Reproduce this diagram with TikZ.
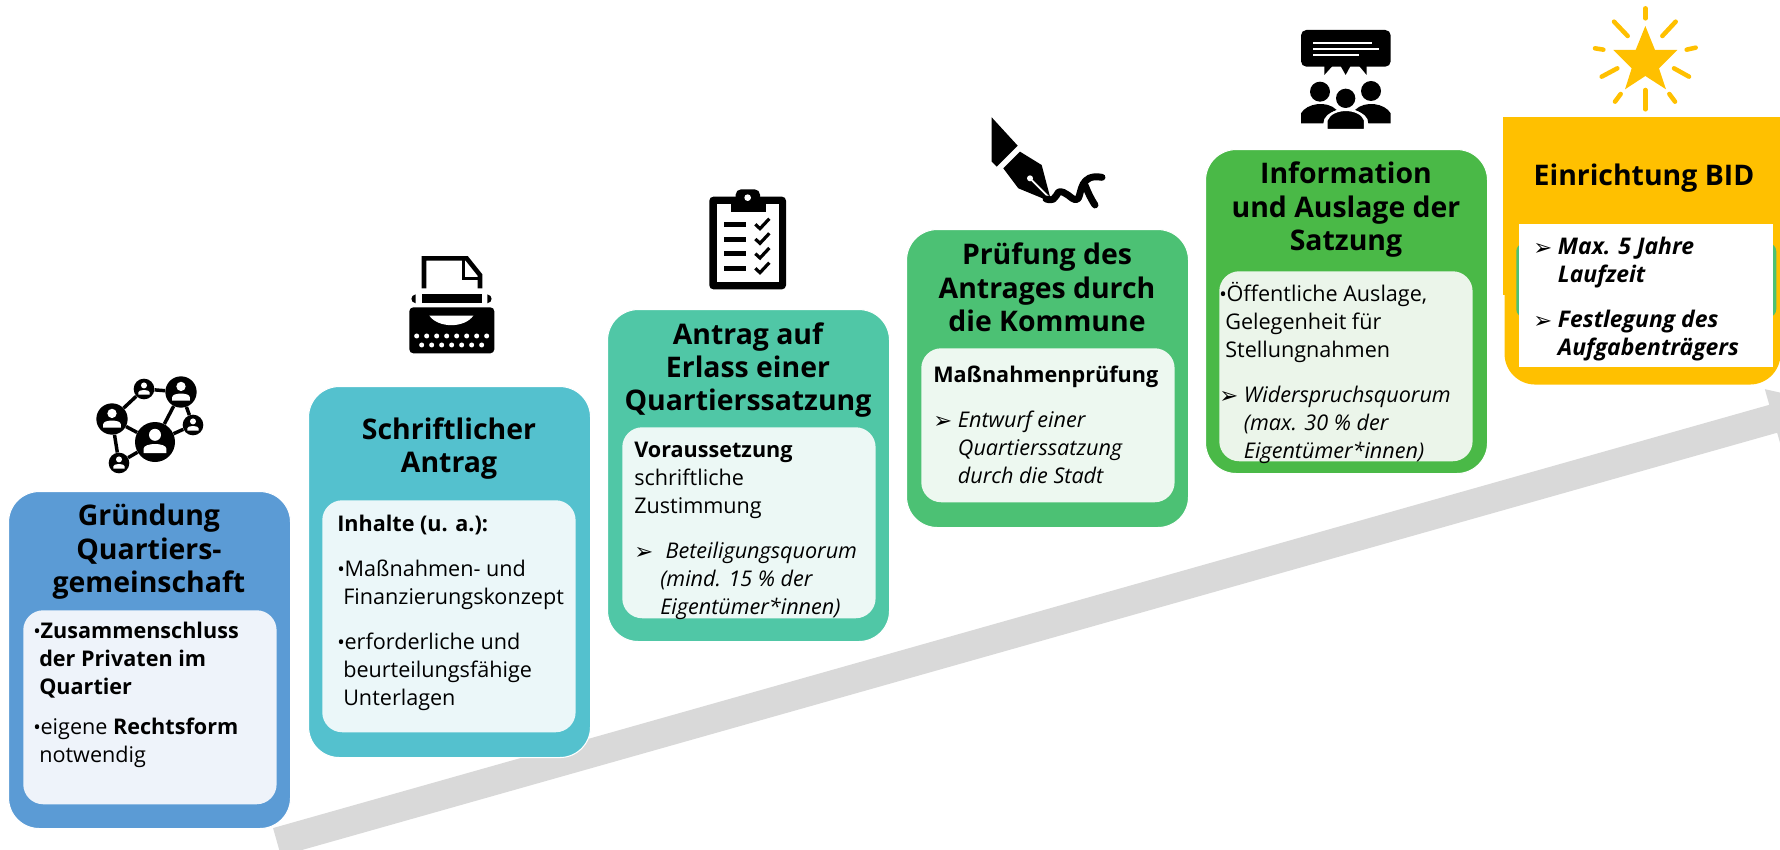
\documentclass[tikz,border=0pt]{standalone}
\usepackage{fontspec}
\setmainfont{Open Sans}
\newfontfamily\tipfont{DejaVu Sans}
\usetikzlibrary{arrows.meta}
\definecolor{boxblue}{HTML}{5B9BD5}
\definecolor{innerblue}{HTML}{EEF3FA}
\definecolor{boxcyan}{HTML}{54C1CE}
\definecolor{innercyan}{HTML}{EBF7F9}
\definecolor{boxmint}{HTML}{50C7A6}
\definecolor{innermint}{HTML}{ECF8F5}
\definecolor{boxgreen}{HTML}{4CC174}
\definecolor{innergreen}{HTML}{EDF8F0}
\definecolor{boxleaf}{HTML}{4AB947}
\definecolor{innerleaf}{HTML}{EBF5EA}
\definecolor{boxgold}{HTML}{FFC000}
\definecolor{slopegray}{HTML}{D9D9D9}
\newcommand{\tipmark}{\makebox[18.5pt][l]{\tipfont\fontsize{17pt}{17pt}\selectfont\raisebox{-0.5pt}{➢}}}
\newcommand{\tiprest}{\hspace*{18.5pt}}
\newcommand{\bulletmark}{\makebox[5.5pt][l]{\fontsize{15pt}{15pt}\selectfont •}}
\newcommand{\bulletrest}{\hspace*{4.5pt}}
\tikzset{
  outerbox/.style={anchor=north west, draw=white, line width=0.8pt, rounded corners=23pt, minimum width=211.5pt, inner sep=0pt},
  innerbox/.style={anchor=north west, rounded corners=15pt, minimum width=190pt, inner sep=0pt},
  boxtitle/.style={anchor=north, align=center, inner sep=0pt, font=\fontsize{21.3pt}{25pt}\selectfont\bfseries},
  boxbody/.style={anchor=north west, align=left, inner sep=0pt, font=\fontsize{16.2pt}{20.9pt}\selectfont},
  netnode/.style={circle, fill=black, inner sep=0pt},
  netlink/.style={line width=2.6pt, black},
  persona/.pic={
    \fill[white] (0,-3.6) circle (3);
    \fill[white] (-5.7,5.6) -- (-5.7,3.4) .. controls (-5.7,0.2) and (5.7,0.2) .. (5.7,3.4) -- (5.7,5.6) -- cycle;
  }
}
\begin{document}
\begin{tikzpicture}[x=0.75pt,y=-0.75pt]
  \useasboundingbox (0,0) rectangle (1780,849);

  \coordinate (slopestart) at (277,842);
  \coordinate (slopeend) at (1829,403);
  \draw[slopegray, line width=21.75pt, -{Triangle[length=43.5pt,width=42.75pt]}] (slopestart) -- (slopeend);

  \node[outerbox, fill=boxblue, minimum height=252.75pt] (boxa) at (8,491) {};
  \node[innerbox, fill=innerblue, minimum height=145.5pt] (innera) at (23,610) {};
  \node[boxtitle] (titlea) at (149,504) {Gründung\\Quartiers-\\gemeinschaft};
  \node[boxbody] (bodya) at (33,622) {\bulletmark\textbf{Zusammenschluss}\\
    \bulletrest\textbf{der Privaten im}\\
    \bulletrest\textbf{Quartier}\\[9pt]
    \bulletmark eigene \textbf{Rechtsform}\\
    \bulletrest notwendig};

  \node[outerbox, fill=boxcyan, minimum height=278.25pt] (boxb) at (308,386) {};
  \node[innerbox, fill=innercyan, minimum height=174pt] (innerb) at (322,500) {};
  \node[boxtitle] (titleb) at (449,417) {Schriftlicher\\Antrag};
  \node[boxbody] (bodyb) at (337,515) {\textbf{Inhalte (u. a.):}\\[13pt]
    \bulletmark Maßnahmen- und\\
    \bulletrest Finanzierungskonzept\\[13pt]
    \bulletmark erforderliche und\\
    \bulletrest beurteilungsfähige\\
    \bulletrest Unterlagen};

  \node[outerbox, fill=boxmint, minimum height=249pt] (boxc) at (607,309) {};
  \node[innerbox, fill=innermint, minimum height=143.25pt] (innerc) at (622,427) {};
  \node[boxtitle] (titlec) at (748,322) {Antrag auf\\Erlass einer\\Quartierssatzung};
  \node[boxbody] (bodyc) at (634,442) {\textbf{Voraussetzung}\\
    schriftliche\\
    Zustimmung\\[13pt]
    \tipmark\hspace*{5pt}\textit{Beteiligungsquorum}\\
    \hspace*{19.5pt}\textit{(mind. 15 \% der}\\
    \hspace*{19.5pt}\textit{Eigentümer*innen)}};

  \node[outerbox, fill=boxgreen, minimum height=223.5pt] (boxd) at (906,229) {};
  \node[innerbox, fill=innergreen, minimum height=115.5pt] (innerd) at (921,348) {};
  \node[boxtitle] (titled) at (1047,243) {Prüfung des\\Antrages durch\\die Kommune};
  \node[boxbody] (bodyd) at (933,366) {\textbf{Maßnahmenprüfung}\\[13pt]
    \tipmark\textit{Entwurf einer}\\
    \tiprest\textit{Quartierssatzung}\\
    \tiprest\textit{durch die Stadt}};

  \node[outerbox, fill=boxleaf, minimum height=243pt] (boxe) at (1205,149) {};
  \node[innerbox, fill=innerleaf, minimum height=142.5pt] (innere) at (1219,271) {};
  \node[boxtitle] (titlee) at (1346,162) {Information\\und Auslage der\\Satzung};
  \node[boxbody] (bodye) at (1219,282) {\bulletmark Öffentliche Auslage,\\
    \bulletrest Gelegenheit für\\
    \bulletrest Stellungnahmen\\[13pt]
    \tipmark\textit{Widerspruchsquorum}\\
    \tiprest\textit{(max. 30 \% der}\\
    \tiprest\textit{Eigentümer*innen)}};

  \fill[boxgold] (1503,117) rectangle (1780,295);
  \node[outerbox, draw=none, fill=boxgold, minimum width=207pt, minimum height=120pt] (boxf) at (1504,224) {};
  \node[innerbox, fill=boxgreen, minimum width=195pt, minimum height=55.5pt, rounded corners=6pt] (innerf) at (1516,243) {};
  \fill[white] (1519,224) rectangle (1773,367);
  \node[boxtitle] (titlef) at (1644,164) {Einrichtung BID};
  \node[boxbody, font=\fontsize{17.2pt}{20.9pt}\selectfont] (bodyf) at (1533,237) {\tipmark\textbf{\textit{Max. 5 Jahre}}\\
    \tiprest\textbf{\textit{Laufzeit}}\\[13pt]
    \tipmark\textbf{\textit{Festlegung des}}\\
    \tiprest\textbf{\textit{Aufgabenträgers}}};

  \node[netnode, minimum size=30pt] (netbig) at (155,442) {};
  \node[netnode, minimum size=23.5pt] (netleft) at (112,419) {};
  \node[netnode, minimum size=23.5pt] (nettop) at (181,392) {};
  \node[netnode, minimum size=15.5pt] (netup) at (144,389) {};
  \node[netnode, minimum size=15.5pt] (netright) at (193,425) {};
  \node[netnode, minimum size=15.5pt] (netlow) at (119,463) {};
  \draw[netlink] (netleft) -- (netup);
  \draw[netlink] (netup) -- (nettop);
  \draw[netlink] (nettop) -- (netright);
  \draw[netlink] (netright) -- (netbig);
  \draw[netlink] (nettop) -- (netbig);
  \draw[netlink] (netleft) -- (netbig);
  \draw[netlink] (netleft) -- (netlow);
  \draw[netlink] (netlow) -- (netbig);
  \pic[scale=2] at (netbig) {persona};
  \pic[scale=1.55] at (netleft) {persona};
  \pic[scale=1.55] at (nettop) {persona};
  \pic at (netup) {persona};
  \pic at (netright) {persona};
  \pic at (netlow) {persona};

  \begin{scope}[shift={(395,245)},scale=0.3333]
    \draw[line width=3.4pt] (87,130) -- (87,40) -- (215,40) -- (255,90) -- (255,130);
    \draw[line width=2.4pt] (205,45) -- (205,100) -- (252,100);
    \fill (82,148) rectangle (262,175);
    \fill (62,148) -- (62,175) .. controls (45,172) and (45,151) .. (62,148) -- cycle;
    \fill (277,148) -- (277,175) .. controls (294,172) and (294,151) .. (277,148) -- cycle;
    \fill[rounded corners=3pt] (43,187) rectangle (298,325);
    \fill[white] (103,212) .. controls (130,250) and (208,250) .. (235,212) -- cycle;
    \foreach \keyx in {65,95,...,275} {\fill[white] (\keyx,273) circle (7.5);}
    \foreach \keyx in {80,110,...,260} {\fill[white] (\keyx,300) circle (7.5);}
  \end{scope}

  \begin{scope}[shift={(695,180)},scale=0.3333]
    \fill[rounded corners=3pt] (43,50) rectangle (273,328);
    \fill[white] (65,72) rectangle (252,305);
    \fill (107,50) rectangle (212,95);
    \fill[rounded corners=4pt] (122,28) rectangle (195,70);
    \fill[white] (158,53) circle (10);
    \foreach \rowy in {126,170,214,258} {
      \fill (88,\rowy) rectangle (153,\rowy+15);
      \draw[line width=2.4pt] (181,\rowy+7) -- (195,\rowy+20) -- (223,\rowy-10);
    }
  \end{scope}

  \begin{scope}[shift={(970,105)},scale=0.3333]
    \fill (65,37) -- (143,122) -- (80,185) -- (65,170) -- cycle;
    \fill (150,140) -- (215,180) -- (240,275) -- (225,283) -- (145,250) -- (100,190) -- cycle;
    \fill[white] (180,220) circle (9);
    \draw[white, line width=1.3pt] (180,220) -- (235,275);
    \draw[line width=5.2pt, line cap=round, line join=round] (228,282) .. controls (270,295) and (250,250) .. (280,262) .. controls (300,270) and (315,295) .. (325,280) .. controls (335,262) and (330,205) .. (396,217);
    \draw[line width=5.2pt, line cap=round] (345,240) .. controls (355,265) and (362,280) .. (375,300);
  \end{scope}

  \begin{scope}[shift={(1290,20)},scale=0.3333]
    \fill[rounded corners=4pt] (33,30) rectangle (302,140);
    \fill (103,135) -- (103,165) -- (130,135) -- cycle;
    \fill (150,135) -- (167,165) -- (183,135) -- cycle;
    \fill (205,135) -- (230,165) -- (230,135) -- cycle;
    \draw[white, line width=1.6pt] (70,68) -- (245,68);
    \draw[white, line width=1.6pt] (70,87) -- (268,87);
    \draw[white, line width=1.6pt] (70,106) -- (207,106);
    \fill (90,215) circle (30);
    \fill (243,213) circle (30);
    \fill (33,310) -- (33,280) .. controls (50,250) and (110,240) .. (140,270) .. controls (115,280) and (100,290) .. (100,310) -- cycle;
    \fill (302,310) -- (302,280) .. controls (285,250) and (225,240) .. (195,270) .. controls (220,280) and (235,290) .. (235,310) -- cycle;
    \fill[white] (167,235) circle (36);
    \fill (167,235) circle (29);
    \filldraw[draw=white, line width=1.6pt] (110,330) -- (110,300) .. controls (125,260) and (210,260) .. (225,300) -- (225,330) -- cycle;
  \end{scope}

  \begin{scope}[shift={(1585,0)},scale=0.3333]
    \fill[boxgold] (181,78) -- (210,150) -- (277,150) -- (222,205) -- (243,268) -- (181,228) -- (120,268) -- (140,205) -- (85,150) -- (152,150) -- cycle;
    \foreach \raya/\rayb/\rayc/\rayd in {181/25/181/55, 87/65/128/108, 272/65/232/108, 30/145/55/149, 332/143/305/149, 50/230/97/205, 312/230/267/205, 181/270/181/328, 107/282/90/305, 253/282/270/305}
      \draw[boxgold, line width=3.4pt, line cap=round] (\raya,\rayb) -- (\rayc,\rayd);
  \end{scope}
\end{tikzpicture}
\end{document}
